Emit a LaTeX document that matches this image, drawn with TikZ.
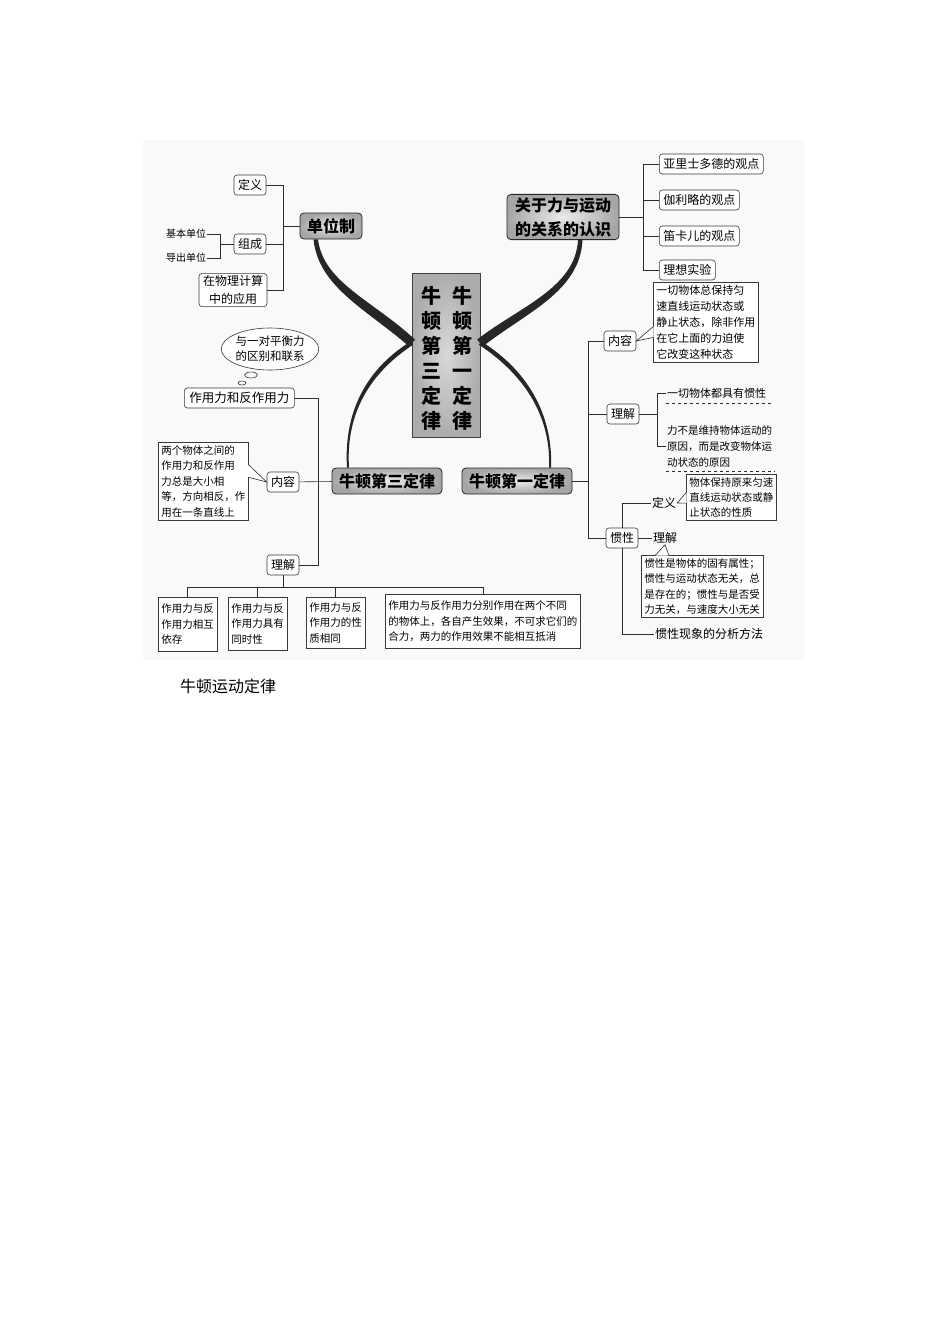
\documentclass[tikz,border=0pt]{standalone}
\usepackage{fontspec}
\setmainfont{Noto Sans CJK SC}
\usetikzlibrary{shapes,arrows,positioning,fit,backgrounds}

\begin{document}
\begin{tikzpicture}[x=1pt,y=-1pt]
		\tikzstyle{Topic}	= [rounded corners=4pt, draw=gray!30!black, line width=0.8pt, inner color=gray!15, outer color=gray!70, font=\fontsize{16}{24}\selectfont\bfseries, inner xsep=7pt, inner ysep=3pt, minimum height=26pt]
		\tikzstyle{Item}	= [rounded corners=3pt, draw=gray!45!black, line width=0.6pt, fill=white, font=\fontsize{12}{18}\selectfont, inner xsep=4pt, inner ysep=2pt, minimum height=20pt]
		\tikzstyle{Note}	= [draw=gray!45!black, line width=0.6pt, fill=white, font=\fontsize{10.5}{15.5}\selectfont, align=left, inner sep=3pt]
		\tikzstyle{Plain}	= [font=\fontsize{12}{14}\selectfont, inner sep=1pt]
		\tikzstyle{Tiny}	= [font=\fontsize{10}{12}\selectfont, inner sep=1pt]
		\tikzstyle{Link}	= [draw=gray!35!black, line width=0.6pt]
		\tikzstyle{Tail}	= [draw=gray!35!black, fill=white, line width=0.6pt]
		\tikzstyle{Branch}	= [fill=gray!30!black]

		\useasboundingbox (0,0) rectangle (950,1344);
		\fill [gray!5] (143,140) rectangle (805,660);

		% centre column
		\node (core) at (446,355) [draw=gray!50!black, inner color=gray!30, outer color=gray!65, minimum width=68pt, minimum height=164pt] {};
		\node (first) at (462,358) [font=\fontsize{20}{25}\selectfont\bfseries, align=center, inner sep=0pt] {牛\\顿\\第\\一\\定\\律};
		\node (third) at (431,358) [font=\fontsize{20}{25}\selectfont\bfseries, align=center, inner sep=0pt] {牛\\顿\\第\\三\\定\\律};
		\coordinate (hubL) at (412,343);
		\coordinate (hubR) at (480,343);

		\node (unit) at (331,226) [Topic] {单位制};
		\node (view) at (563,217) [Topic, align=center, inner xsep=8pt] {关于力与运动\\的关系的认识};
		\node (law3) at (387,481) [Topic] {牛顿第三定律};
		\node (law1) at (517,481) [Topic] {牛顿第一定律};

		% tapered branches
		\fill [Branch] ([xshift=-17.5pt]unit.south) .. controls (318.5,287) and (366,309) .. ([xshift=-3pt, yshift=-3.3pt]hubL) -- ([xshift=3pt, yshift=3.3pt]hubL) .. controls (374,301) and (323.5,283) .. ([xshift=-13pt]unit.south) -- cycle;
		\fill [Branch] ([xshift=-1.1pt, yshift=1.7pt]hubL) .. controls (360,373) and (344,420) .. ([xshift=-40pt]law3.north) -- ([xshift=-38pt]law3.north) .. controls (346,420) and (364,377) .. ([xshift=1.1pt, yshift=-1.7pt]hubL) -- cycle;
		\fill [Branch] ([xshift=15pt]view.south) .. controls (575.5,288) and (519,307) .. ([xshift=-2.8pt, yshift=3.5pt]hubR) -- ([xshift=2.8pt, yshift=-3.5pt]hubR) .. controls (525,313) and (580,292) .. ([xshift=19.5pt]view.south) -- cycle;
		\fill [Branch] ([xshift=1.1pt, yshift=1.7pt]hubR) .. controls (532,373) and (553,420) .. ([xshift=34pt]law1.north) -- ([xshift=32pt]law1.north) .. controls (551,420) and (528,377) .. ([xshift=-1.1pt, yshift=-1.7pt]hubR) -- cycle;

		% unit system
		\node (def) at (250,185) [Item] {定义};
		\node (comp) at (250,244) [Item] {组成};
		\node (apply) at (233,290) [Item, align=center] {在物理计算\\中的应用};
		\node (base) at (186,234) [Tiny] {基本单位};
		\node (derived) at (186,258) [Tiny] {导出单位};
		\coordinate (jU) at (283,226);
		\coordinate (jC) at (220,244);

		\draw [-] (def) -| (jU) [Link];
		\draw [-] (comp) -| (jU) [Link];
		\draw [-] (apply) -| (jU) [Link];
		\draw [-] (jU) to (unit) [Link];
		\draw [-] (base) -| (jC) [Link];
		\draw [-] (derived) -| (jC) [Link];
		\draw [-] (jC) to (comp) [Link];

		% force and motion
		\node (ari) at (659,164) [Item, anchor=west] {亚里士多德的观点};
		\node (gal) at (659,200) [Item, anchor=west] {伽利略的观点};
		\node (des) at (659,236) [Item, anchor=west] {笛卡儿的观点};
		\node (ideal) at (659,270) [Item, anchor=west] {理想实验};
		\coordinate (jV) at (643,217);

		\draw [-] (ari) -| (jV) [Link];
		\draw [-] (gal) -| (jV) [Link];
		\draw [-] (des) -| (jV) [Link];
		\draw [-] (ideal) -| (jV) [Link];
		\draw [-] (jV) to (view) [Link];

		% third law
		\node (think) at (270,349) [ellipse, draw=gray!45!black, line width=0.6pt, fill=white, minimum width=94pt, minimum height=42pt, inner sep=0pt, align=center, font=\fontsize{11.5}{15}\selectfont] {与一对平衡力\\的区别和联系};
		\node (bub1) at (251,375) [ellipse, draw=gray!45!black, line width=0.6pt, minimum width=13pt, minimum height=6pt, inner sep=0pt] {};
		\node (bub2) at (242,383) [ellipse, draw=gray!45!black, line width=0.6pt, minimum width=8pt, minimum height=4pt, inner sep=0pt] {};
		\node (pair) at (184,398) [Item, anchor=west, font=\fontsize{12.5}{18}\selectfont, inner xsep=5pt] {作用力和反作用力};
		\node (cont3) at (283,482) [Item] {内容};
		\node (und3) at (283,565) [Item] {理解};
		\node (cont3txt) at (158,442) [Note, anchor=north west] {两个物体之间的\\作用力和反作用\\力总是大小相\\等，方向相反，作\\用在一条直线上};
		\coordinate (j3) at (318,482);
		\coordinate (jB) at (283,587);

		\draw [-] (pair) -| (j3) [Link];
		\draw [-] (und3) -| (j3) [Link];
		\draw [-] (cont3) to (law3) [Link];
		\draw [Tail] ([xshift=-0.6pt, yshift=17pt]cont3txt.east) -- (cont3.west) -- ([xshift=-0.6pt, yshift=4pt]cont3txt.east);

		\node (dep) at (158,597) [Note, anchor=north west, minimum height=54pt] {作用力与反\\作用力相互\\依存};
		\node (sim) at (228,597) [Note, anchor=north west, minimum height=53pt] {作用力与反\\作用力具有\\同时性};
		\node (same) at (306,597) [Note, anchor=north west, minimum height=51pt] {作用力与反\\作用力的性\\质相同};
		\node (diff) at (385,594) [Note, anchor=north west, minimum height=54pt] {作用力与反作用力分别作用在两个不同\\的物体上，各自产生效果，不可求它们的\\合力，两力的作用效果不能相互抵消};

		\draw [-] (und3) to (jB) [Link];
		\draw [-] (jB) -| (dep.north) [Link];
		\draw [-] (jB) -| (sim.north) [Link];
		\draw [-] (jB) -| (same.north) [Link];
		\draw [-] (jB) -| (diff.north) [Link];

		% first law
		\node (cont1) at (620,341) [Item] {内容};
		\node (und1) at (623,414) [Item] {理解};
		\node (iner) at (622,538) [Item] {惯性};
		\node (cont1txt) at (653,282) [Note, anchor=north west, font=\fontsize{11}{16}\selectfont] {一切物体总保持匀\\速直线运动状态或\\静止状态，除非作用\\在它上面的力迫使\\它改变这种状态};
		\coordinate (j1) at (588,481);
		\coordinate (jU1) at (657,414);

		\draw [-] (law1) to (j1) [Link];
		\draw [-] (cont1) -| (j1) [Link];
		\draw [-] (und1) -| (j1) [Link];
		\draw [-] (iner) -| (j1) [Link];
		\draw [Tail] ([xshift=0.6pt, yshift=-4pt]cont1txt.west) -- (cont1.east) -- ([xshift=0.6pt, yshift=-15pt]cont1txt.west);

		\node (allin) at (666,393) [Plain, anchor=west, font=\fontsize{11}{14}\selectfont] {一切物体都具有惯性};
		\node (notcause) at (666,446) [anchor=west, align=left, inner sep=1pt, font=\fontsize{10.5}{16}\selectfont] {力不是维持物体运动的\\原因，而是改变物体运\\动状态的原因};
		\draw [-] (und1) to (jU1) [Link];
		\draw [-] (allin) -| (jU1) [Link];
		\draw [-] (notcause) -| (jU1) [Link];
		\draw [dashed] ([yshift=-4pt]allin.south west) -- ([xshift=6pt, yshift=-4pt]allin.south east) [Link];
		\draw [dashed] ([yshift=-3pt]notcause.south west) -- ([xshift=2pt, yshift=-3pt]notcause.south east) [Link];

		% inertia
		\node (idef) at (664,503) [Plain] {定义};
		\node (iund) at (665,538) [Plain] {理解};
		\node (imeth) at (709,634) [Plain] {惯性现象的分析方法};
		\node (idefbox) at (686,474) [Note, anchor=north west, font=\fontsize{10.5}{15}\selectfont] {物体保持原来匀速\\直线运动状态或静\\止状态的性质};
		\node (iundbox) at (641,555) [Note, anchor=north west] {惯性是物体的固有属性；\\惯性与运动状态无关，总\\是存在的；惯性与是否受\\力无关，与速度大小无关};

		\draw [-] (iner.north) |- (idef) [Link];
		\draw [-] (iner) to (iund) [Link];
		\draw [-] (iner.south) |- (imeth) [Link];
		\draw [Tail] ([xshift=0.6pt, yshift=5pt]idefbox.west) -- (idef.east) -- ([xshift=0.6pt, yshift=-6pt]idefbox.west);
		\draw [Tail] ([xshift=14pt, yshift=-0.6pt]iundbox.north west) -- (iund.south) -- ([xshift=28pt, yshift=-0.6pt]iundbox.north west);

		\node (caption) at (228,686) [font=\fontsize{16}{18}\selectfont] {牛顿运动定律};
	\end{tikzpicture}
\end{document}
